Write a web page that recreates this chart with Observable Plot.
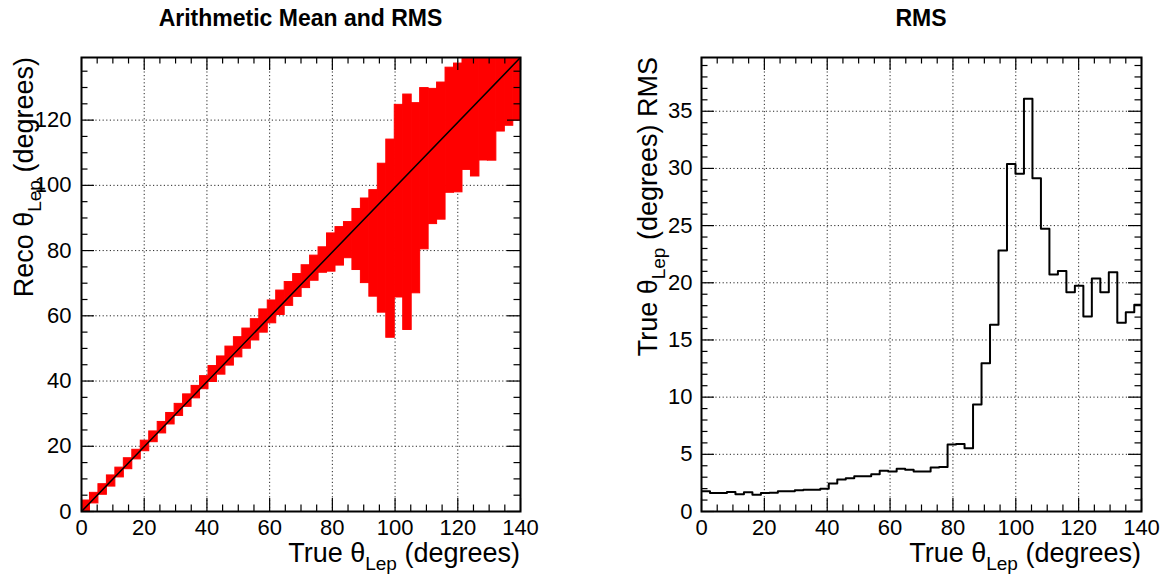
<!DOCTYPE html>
<html><head><meta charset="utf-8">
<script src="https://cdn.jsdelivr.net/npm/d3@7"></script>
<script src="https://cdn.jsdelivr.net/npm/@observablehq/plot@0.6"></script>
<style>
html,body{margin:0;padding:0;background:#fff;}
#wrap{display:flex;width:1166px;height:581px;font-family:"Liberation Sans",Arial,sans-serif;}
#wrap svg{display:block;overflow:visible;}
</style></head><body><div id="wrap"></div>
<script>
// ---- data ----
const binWidth = 2.7; // degrees per bin of True theta_Lep
const rmsValues = [1.76,1.62,1.62,1.71,1.50,1.68,1.47,1.62,1.65,1.76,
  1.76,1.85,1.91,1.91,2.00,2.44,2.79,2.91,3.09,3.09,
  3.26,3.56,3.50,3.74,3.65,3.50,3.50,3.85,3.90,5.86,
  5.90,5.54,9.36,12.97,16.33,22.83,30.38,29.53,36.09,29.15,
  24.72,20.73,21.02,19.18,19.74,17.06,20.38,19.18,20.93,16.50,
  17.43,18.08];
const meanValues = [1.6,4.1,6.75,9.35,11.95,14.65,17.45,20.1,22.9,25.7,
  28.45,31.15,34.0,36.6,39.5,42.15,44.75,47.65,50.35,53.0,
  55.7,58.4,61.2,64.0,66.7,69.3,72.0,74.6,77.1,79.4,
  81.3,83.2,83.4,83.0,82.2,83.8,83.65,95.15,91.75,96.05,
  105.1,108.85,110.5,116.9,117.6,121.8,123.1,126.8,128.5,133.0,
  135.7,137.9];
const diagonal = [0, 140];
const xMajor = [0,20,40,60,80,100,120,140];
const xMinor = [5,10,15,25,30,35,45,50,55,65,70,75,85,90,95,105,110,115,125,130,135];
const yMajorL = [0,20,40,60,80,100,120];
const yMinorL = [5,10,15,25,30,35,45,50,55,65,70,75,85,90,95,105,110,115,125,130,135];
const yMajorR = [0,5,10,15,20,25,30,35];
const yMinorR = [1,2,3,4,6,7,8,9,11,12,13,14,16,17,18,19,21,22,23,24,26,27,28,29,31,32,33,34,36,37,38,39];
const xDomain = [0, 140];
const yDomainL = [0, 139.2];
const yDomainR = [0, 39.7];

const bins = rmsValues.map((r, i) => ({
  x1: i * binWidth, x2: Math.min((i + 1) * binWidth, xDomain[1]),
  lo: meanValues[i] - r, hi: meanValues[i] + r, rms: r
}));
const steps = bins.map(b => ({x: b.x1, y: b.rms})).concat([{x: xDomain[1], y: rmsValues[rmsValues.length - 1]}]);

const W = 583, H = 581, MT = 57, MB = 70;
const FONT = '"Liberation Sans", Arial, sans-serif';

function tickMarks(xd, yd, yMaj, yMin, plotW, plotH) {
  const kx = (xd[1] - xd[0]) / plotW, ky = (yd[1] - yd[0]) / plotH;
  const L = 13, l = 6.5, st = {stroke: "black", strokeWidth: 1.2};
  return [
    Plot.ruleX(xMajor, {x: d => d, y1: yd[0], y2: yd[0] + L * ky, ...st}),
    Plot.ruleX(xMinor, {x: d => d, y1: yd[0], y2: yd[0] + l * ky, ...st}),
    Plot.ruleX(xMajor, {x: d => d, y1: yd[1] - L * ky, y2: yd[1], ...st}),
    Plot.ruleX(xMinor, {x: d => d, y1: yd[1] - l * ky, y2: yd[1], ...st}),
    Plot.ruleY(yMaj, {y: d => d, x1: xd[0], x2: xd[0] + L * kx, ...st}),
    Plot.ruleY(yMin, {y: d => d, x1: xd[0], x2: xd[0] + l * kx, ...st}),
    Plot.ruleY(yMaj, {y: d => d, x1: xd[1] - L * kx, x2: xd[1], ...st}),
    Plot.ruleY(yMin, {y: d => d, x1: xd[1] - l * kx, x2: xd[1], ...st}),
  ];
}
function grid(yMaj) {
  const g = {stroke: "black", strokeWidth: 1, strokeDasharray: "1.2,2.4", strokeOpacity: 0.85};
  return [
    Plot.ruleX(xMajor.slice(1, -1), {x: d => d, ...g}),
    Plot.ruleY(yMaj.slice(1), {y: d => d, ...g}),
  ];
}
function labels(yMaj, dxY) {
  return [
    Plot.text(xMajor, {x: d => d, frameAnchor: "bottom", dy: 23, text: d => String(d), fontSize: 22, fill: "black"}),
    Plot.text(yMaj, {y: d => d, frameAnchor: "left", dx: dxY, textAnchor: "end", text: d => String(d), fontSize: 22, fill: "black"}),
  ];
}

// ---- left panel ----
const mlL = 81, mrL = 63;
const left = Plot.plot({
  width: W, height: H, marginLeft: mlL, marginRight: mrL, marginTop: MT, marginBottom: MB,
  style: {fontFamily: FONT, background: "white", overflow: "visible"},
  x: {domain: xDomain, axis: null},
  y: {domain: yDomainL, axis: null, clamp: true},
  marks: [
    ...grid(yMajorL),
    Plot.rect(bins, {x1: "x1", x2: "x2", y1: "lo", y2: "hi", fill: "#ff0000", stroke: "#ff0000", strokeWidth: 1, clip: true}),
    Plot.line(diagonal, {x: d => d, y: d => d, stroke: "black", strokeWidth: 1.5, clip: true}),
    ...tickMarks(xDomain, yDomainL, yMajorL, yMinorL, W - mlL - mrL, H - MT - MB),
    Plot.frame({stroke: "black", strokeWidth: 2}),
    ...labels(yMajorL, -10)
  ]
});

// ---- right panel ----
const mlR = 118, mrR = 25;
const right = Plot.plot({
  width: W, height: H, marginLeft: mlR, marginRight: mrR, marginTop: MT, marginBottom: MB,
  style: {fontFamily: FONT, background: "white", overflow: "visible"},
  x: {domain: xDomain, axis: null},
  y: {domain: yDomainR, axis: null},
  marks: [
    ...grid(yMajorR),
    Plot.line(steps, {x: "x", y: "y", curve: "step-after", stroke: "black", strokeWidth: 2, clip: true}),
    ...tickMarks(xDomain, yDomainR, yMajorR, yMinorR, W - mlR - mrR, H - MT - MB),
    Plot.frame({stroke: "black", strokeWidth: 2}),
    ...labels(yMajorR, -9)
  ]
});

const wrap = document.getElementById("wrap");
wrap.appendChild(left);
wrap.appendChild(right);

function addTitle(svg, x, text) {
  d3.select(svg).append("text").attr("x", x).attr("y", 26)
    .attr("text-anchor", "middle").attr("font-family", FONT)
    .attr("font-weight", "bold").attr("font-size", 23).attr("fill", "black").text(text);
}
function addAxisTitle(svg, x, y, rotate, pre, post) {
  const t = d3.select(svg).append("text")
    .attr("transform", `translate(${x},${y})` + (rotate ? " rotate(-90)" : ""))
    .attr("text-anchor", "end").attr("font-family", FONT).attr("font-size", 27).attr("fill", "black");
  t.append("tspan").text(pre + "\u03b8");
  t.append("tspan").attr("dy", 8).attr("font-size", 19).text("Lep");
  t.append("tspan").attr("dy", -8).text(post);
}
addTitle(left, (mlL + W - mrL) / 2, "Arithmetic Mean and RMS");
addTitle(right, (mlR + W - mrR) / 2, "RMS");
addAxisTitle(left, W - mrL, 562, false, "True ", " (degrees)");
addAxisTitle(right, W - mrR, 562, false, "True ", " (degrees)");
addAxisTitle(left, 33, MT, true, "Reco ", " (degrees)");
addAxisTitle(right, 657 - W, MT, true, "True ", " (degrees) RMS");
</script></body></html>
